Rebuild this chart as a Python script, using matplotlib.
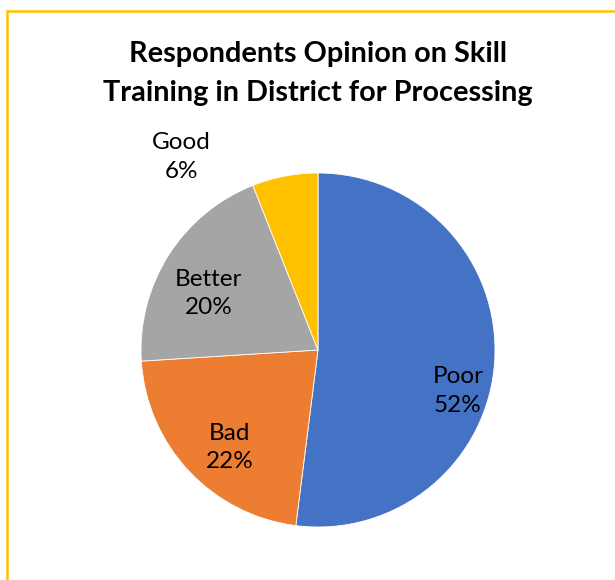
import matplotlib.pyplot as plt
import matplotlib.patches as mpatches

# data
categories = ['Poor', 'Bad', 'Better', 'Good']
shares = [52, 22, 20, 6]
colors = ['#4472C4', '#ED7D31', '#A5A5A5', '#FFC000']

# label placement in pie data units (radius 1)
label_pos = [(0.79, -0.23), (-0.50, -0.55), (-0.62, 0.32), (-0.77, 1.09)]

plt.rcParams['font.family'] = ['Lato', 'DejaVu Sans']

W, H = 615, 580
fig = plt.figure(figsize=(W / 100, H / 100), dpi=100)

# gold chart-area border (runs off the right and bottom edge)
fig.patches.append(mpatches.Rectangle((7 / W, -0.05), 1.2, 1 - 11 / H + 0.05,
                                      transform=fig.transFigure, fill=False,
                                      edgecolor='#FFC000', linewidth=1.8))

cx, cy, r = 318, 350, 177
ax = fig.add_axes([(cx - r) / W, (H - cy - r) / H, 2 * r / W, 2 * r / H])
ax.pie(shares, colors=colors, startangle=90, counterclock=False,
       wedgeprops=dict(edgecolor='white', linewidth=0.6))
ax.set_xlim(-1, 1)
ax.set_ylim(-1, 1)
ax.set_aspect('equal')
ax.axis('off')

for cat, val, (x, y) in zip(categories, shares, label_pos):
    ax.text(x, y, f'{cat}\n{val}%', ha='center', va='center', fontsize=17.5,
            color='#000000', linespacing=1.45)

fig.text(0.517, 0.874, 'Respondents Opinion on Skill\nTraining in District for Processing',
         ha='center', va='center', fontsize=20.8, fontweight='bold', linespacing=1.62)

fig.savefig('out.png', dpi=100)
